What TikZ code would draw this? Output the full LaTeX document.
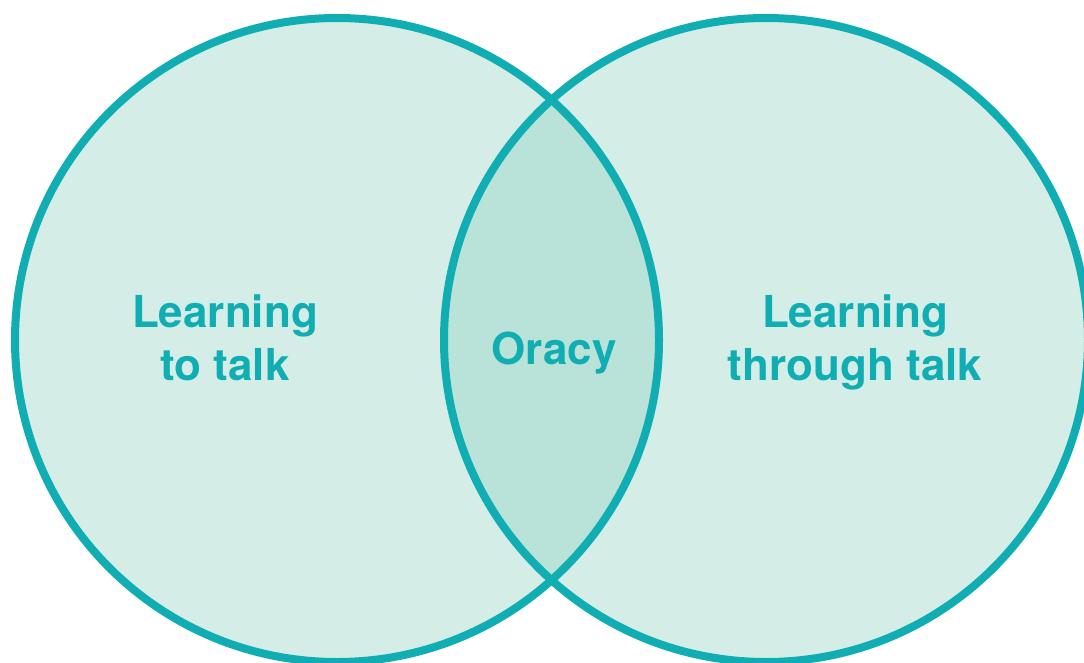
\documentclass[tikz,border=0pt]{standalone}
\usepackage{fontspec}
\setmainfont{TeX Gyre Heros}
\usepackage{tikz}
\usetikzlibrary{positioning}

\definecolor{ringteal}{HTML}{10AEB3}
\definecolor{paleteal}{HTML}{D4EDE6}
\definecolor{midteal}{HTML}{B9E2D8}

\tikzset{
  ring/.style={draw=ringteal, line width=8pt},
  label/.style={text=ringteal, align=center, inner sep=0pt,
    font=\bfseries\fontsize{44}{53}\selectfont}
}

\begin{document}
\begin{tikzpicture}[x=1pt,y=-1pt]

\useasboundingbox (0,0) rectangle (1084,663);

\coordinate (Left) at (337,340);
\coordinate (Right) at (766,340);

\fill[paleteal] (Left) circle[radius=322pt];
\fill[paleteal] (Right) circle[radius=322pt];

% overlap
\begin{scope}
  \clip (Left) circle[radius=322pt];
  \fill[midteal] (Right) circle[radius=322pt];
\end{scope}

\draw[ring] (Left) circle[radius=322pt];
\draw[ring] (Right) circle[radius=322pt];

\node[label] (ToTalk) at (225,338) {Learning\\to talk};
\node[label] (Oracy) at (554,353) {Oracy};
\node[label] (ThroughTalk) at (855,342) {Learning\\through talk};

\end{tikzpicture}
\end{document}
